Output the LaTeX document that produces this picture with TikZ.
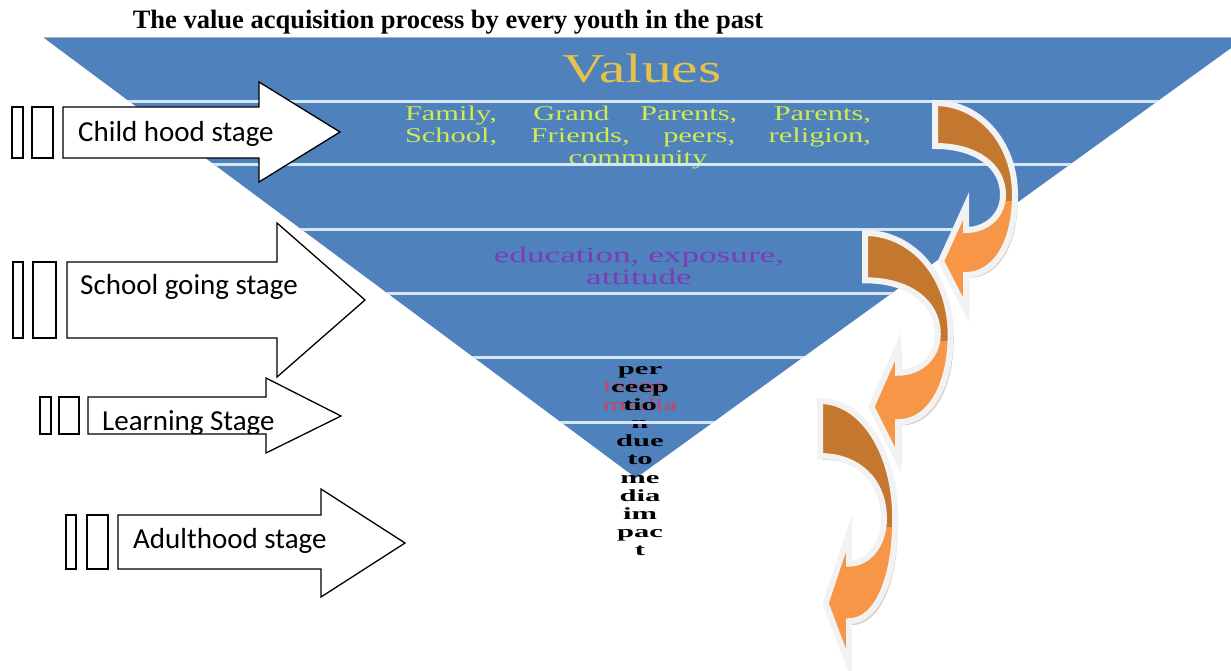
\documentclass[tikz,border=0pt]{standalone}
\usepackage{fontspec}
\setmainfont{Liberation Serif}
\newfontfamily\stagefont{Carlito}
\newfontfamily\widefont[FakeStretch=1.45]{Liberation Serif}
\newfontfamily\widerfont[FakeStretch=1.6]{Liberation Serif}
\newfontfamily\widestfont[FakeStretch=1.8]{Liberation Serif}

\definecolor{bandblue}{HTML}{4F81BD}
\definecolor{lineblue}{HTML}{D5E6F5}
\definecolor{valuegold}{HTML}{E6C24A}
\definecolor{familygreen}{HTML}{CFEA52}
\definecolor{edupurple}{HTML}{7A3DB8}
\definecolor{mediared}{HTML}{D2405A}
\definecolor{darkorange}{HTML}{C4782F}
\definecolor{lightorange}{HTML}{F79646}
\definecolor{rimwhite}{HTML}{F2F2F2}

% one curved arrow, tail at (0,0), drawn downwards
\newcommand\curvedpath{(0,0) .. controls (45,0) and (80,40) .. (80,92)
  .. controls (80,140) and (60,172) .. (31,172) -- (31,207) -- (6,158)
  -- (31,103) -- (31,127) .. controls (52,127) and (68,112) .. (68,92)
  .. controls (68,62) and (40,43) .. (0,43) -- cycle}

\begin{document}
\begin{tikzpicture}
    [x=1pt, y=-1pt,
    stagearrow/.style={
      draw=black,
      fill=white,
      line width=1.3pt,
      line join=miter},
    stagebar/.style={draw=black, fill=white, line width=1.3pt},
    stagetext/.style={
      anchor=base west,
      inner sep=0pt,
      font=\stagefont\fontsize{29}{29}\selectfont},
    bandline/.style={draw=lineblue, line width=3pt},
    arrowrim/.style={draw=rimwhite, line width=6pt, line join=miter}
    ]
    \useasboundingbox (0,0) rectangle (1231,671);

    \node (title) [anchor=base, font=\bfseries\fontsize{26.5}{26.5}\selectfont] at (448,29)
      {The value acquisition process by every youth in the past};

    % the funnel
    \coordinate (tl) at (44,38);
    \coordinate (tr) at (1245,38);
    \coordinate (apex) at (636,478);
    \begin{scope}
      \clip (0,0) rectangle (1231,671);
      \fill[bandblue] (tl) -- (tr) -- (apex) -- cycle;
      \draw[gray!60, line width=1pt] (tl) -- (tr);
    \end{scope}

    \node (values) [anchor=base, text=valuegold, font=\widefont\fontsize{41}{41}\selectfont] at (642,83) {Values};
    \node (family) [text=familygreen, align=center, font=\widefont\fontsize{21}{22}\selectfont] at (638,137)
      {\makebox[466pt][s]{Family, Grand Parents, Parents,}\\
       \makebox[466pt][s]{School, Friends, peers, religion,}\\
       community};
    \node (education) [text=edupurple, align=center, font=\widerfont\fontsize{22}{22}\selectfont] at (639,266)
      {education, exposure,\\ attitude};
    \node (teens) [text=mediared, font=\widestfont\fontsize{17}{18}\selectfont] at (635,387) {teens};
    \node (media) [text=mediared, font=\widestfont\fontsize{17}{18}\selectfont] at (640,405) {media};
    \node (impact) [align=center, font=\widestfont\bfseries\fontsize{17}{18.1}\selectfont] at (640,461)
      {per\\ ceep\\ tio\\ n\\ due\\ to\\ me\\ dia\\ im\\ pac\\ t};

    \begin{scope}
      \clip (tl) -- (tr) -- (apex) -- cycle;
      \foreach \y in {102,165,229,293,357,422}
        \draw[bandline] (0,\y) -- (1231,\y);
    \end{scope}

    % orange curved arrows
    \foreach \ox/\oy/\sx/\sy in {820/401/0.94/1.28, 865/233/1.07/1.1, 935/103/1/1} {
      \begin{scope}[shift={(\ox,\oy)}, xscale=\sx, yscale=\sy]
        \fill[brown!70!black, opacity=.3, xshift=3pt, yshift=-3pt] \curvedpath;
        \fill[lightorange] \curvedpath;
        \begin{scope}
          \clip (-20,-20) rectangle (120,98);
          \fill[darkorange] \curvedpath;
        \end{scope}
        \draw[arrowrim] \curvedpath;
      \end{scope}
    }

    % stages
    \draw[stagebar] (12,107) rectangle (23,158) (32,107) rectangle (53,158);
    \draw[stagearrow] (63,107) -- (259,107) -- (259,82) -- (340,132) -- (259,182) -- (259,158) -- (63,158) -- cycle;
    \node (child) [stagetext] at (78,142) {Child hood stage};

    \draw[stagebar] (13,262) rectangle (23,338) (33,262) rectangle (56,338);
    \draw[stagearrow] (67,262) -- (277,262) -- (277,223) -- (365,300) -- (277,377) -- (277,338) -- (67,338) -- cycle;
    \node (school) [stagetext] at (80,294) {School going stage};

    \draw[stagebar] (40,397) rectangle (51,434) (59,397) rectangle (79,434);
    \draw[stagearrow] (88,397) -- (266,397) -- (266,378) -- (341,416) -- (266,453) -- (266,434) -- (88,434) -- cycle;
    \begin{scope}
      \clip (88,397) rectangle (300,433);
      \node (learning) [stagetext] at (102,430) {Learning Stage};
    \end{scope}

    \draw[stagebar] (66,515) rectangle (76,569) (87,515) rectangle (108,569);
    \draw[stagearrow] (118,515) -- (321,515) -- (321,489) -- (405,543) -- (321,597) -- (321,569) -- (118,569) -- cycle;
    \node (adult) [stagetext] at (133,548) {Adulthood stage};
\end{tikzpicture}
\end{document}
